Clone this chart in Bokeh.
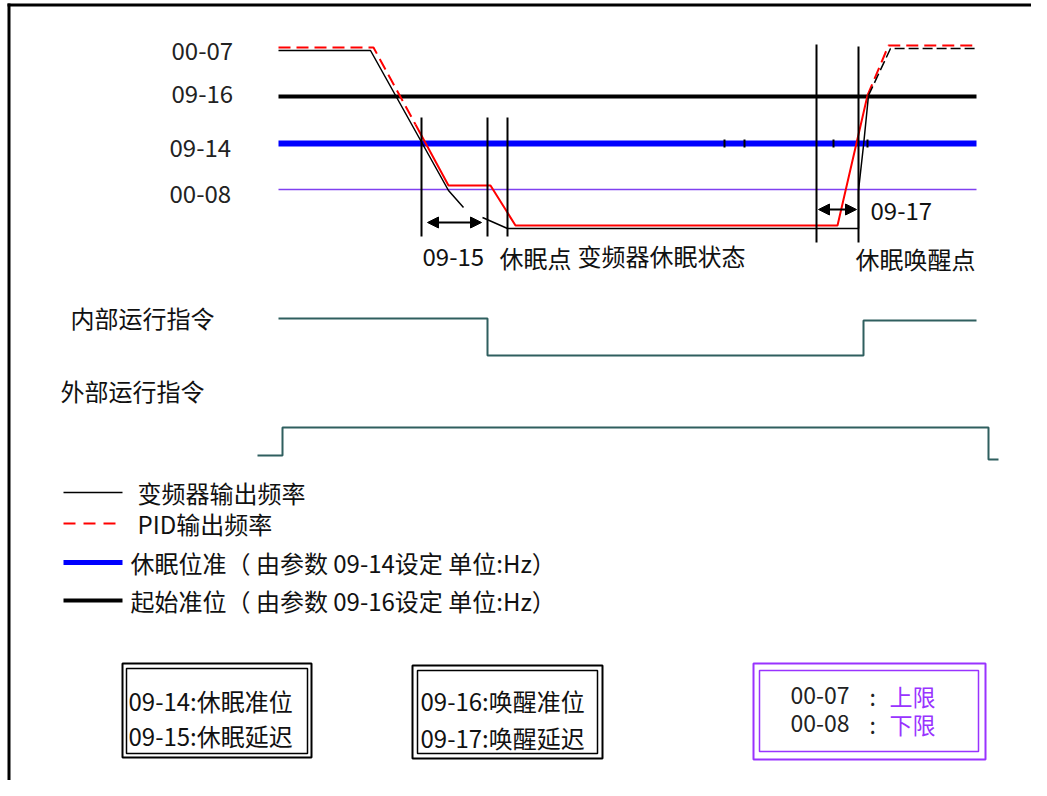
from bokeh.plotting import figure
from bokeh.models import Range1d, Arrow, NormalHead
from bokeh.core.properties import value
from bokeh.embed import file_html
from bokeh.resources import INLINE

CJK = value("Noto Sans CJK SC")

# ---- level lines (diagram coords = picture pixels) ----
level_names = ["00-07", "09-16", "09-14", "00-08"]
level_label_x = [171, 171, 169, 169]
level_label_y = [50, 93, 147, 193]
level_line_y = [96, 143, 189]
level_line_color = ["black", "#0000FF", "#8040F0"]
level_line_width = [4, 6, 1.5]
level_x0, level_x1 = 278, 976

# inverter output frequency (black)
out_a_x = [278, 370, 448, 463]
out_a_y = [50, 50, 190, 207]
out_b_x = [482, 507, 858, 858, 863, 868]
out_b_y = [217, 228, 228, 190, 145, 95]
out_c_x = [868, 890, 976]
out_c_y = [95, 48, 48]

# PID output frequency (red)
pid_a_x = [278, 373, 415]
pid_a_y = [47, 47, 124]
pid_b_x = [415, 448, 490, 515, 837, 867]
pid_b_y = [124, 185, 185, 225, 225, 95]
pid_c_x = [867, 888, 976]
pid_c_y = [95, 45, 45]

# vertical timing markers
mark_x = [421, 487, 507, 816, 858]
mark_y0 = [117, 117, 117, 44, 46]
mark_y1 = [236, 236, 236, 242, 242]

# small ticks on blue line
tick_x = [724, 744, 833, 867]

# delay arrows
arrow_x0 = [427, 818]
arrow_x1 = [481, 856]
arrow_y = [222, 209]

# annotations on top diagram
top_text = ["09-15", "休眠点", "变频器休眠状态", "休眠唤醒点", "09-17"]
top_text_x = [422, 499, 577, 855, 870]
top_text_y = [256, 257, 255, 258, 210]

# run command signals
int_x = [278, 487, 487, 863, 863, 976]
int_y = [318, 318, 355, 355, 320, 320]
ext_x = [257, 282, 282, 988, 988, 998]
ext_y = [455, 455, 427, 427, 459, 459]
sig_labels = ["内部运行指令", "外部运行指令"]
sig_label_x = [70, 60]
sig_label_y = [317, 390]

# legend
legend_text = ["变频器输出频率", "PID输出频率",
               "休眠位准（ 由参数 09-14设定  单位:Hz）",
               "起始准位（ 由参数 09-16设定  单位:Hz）"]
legend_y = [492, 523, 562, 600]
legend_text_x = [137, 137, 130, 130]
legend_color = ["black", "red", "#0000FF", "black"]
legend_width = [1.5, 2, 5, 4]
legend_dash = ["solid", "12 8", "solid", "solid"]
legend_x0, legend_x1 = 63, 122

# parameter boxes
box_outer = [(122, 311, 663, 757), (412, 602, 665, 758), (753, 985, 663, 759)]
box_inner = [(126, 307, 668, 753), (417, 597, 670, 753), (759, 978, 670, 751)]
box_color = ["black", "black", "#9933FF"]
box_text = ["09-14:休眠准位", "09-15:休眠延迟", "09-16:唤醒准位", "09-17:唤醒延迟"]
box_text_x = [128, 128, 420, 420]
box_text_y = [700, 735, 700, 737]
lim_code = ["00-07", "00-08"]
lim_name = ["上限", "下限"]
lim_y = [695, 723]

p = figure(width=1031, height=780, output_backend="svg", toolbar_location=None,
           x_range=Range1d(0, 1031), y_range=Range1d(780, 0), min_border=0)
p.axis.visible = False
p.grid.visible = False
p.outline_line_color = None
p.background_fill_color = "white"

# frame
p.line([8.5, 8.5], [3, 780], line_color="black", line_width=3)
p.line([7, 1031], [4.5, 4.5], line_color="black", line_width=3)

# level lines
for yy, c, w in zip(level_line_y, level_line_color, level_line_width):
    p.line([level_x0, level_x1], [yy, yy], line_color=c, line_width=w)
p.segment(x0=tick_x, y0=[139] * len(tick_x), x1=tick_x, y1=[147] * len(tick_x),
          line_color="black", line_width=2)
p.text(x=level_label_x, y=level_label_y, text=level_names, text_font=CJK,
       text_font_size="24px", text_baseline="middle", text_color="#222222")

# curves
p.line(pid_a_x, pid_a_y, line_color="red", line_width=2, line_dash="12 6")
p.line(pid_b_x, pid_b_y, line_color="red", line_width=2)
p.line(pid_c_x, pid_c_y, line_color="red", line_width=2, line_dash="12 6")
p.line(out_a_x, out_a_y, line_color="black", line_width=1.5)
p.line(out_b_x, out_b_y, line_color="black", line_width=1.5)
p.line(out_c_x, out_c_y, line_color="black", line_width=1.5, line_dash="10 4")

p.segment(x0=mark_x, y0=mark_y0, x1=mark_x, y1=mark_y1, line_color="black", line_width=2)

for xa, xb, yy in zip(arrow_x0, arrow_x1, arrow_y):
    p.add_layout(Arrow(x_start=xa, y_start=yy, x_end=xb, y_end=yy, line_width=2,
                       start=NormalHead(size=11, fill_color="black", line_color="black"),
                       end=NormalHead(size=11, fill_color="black", line_color="black")))

p.text(x=top_text_x, y=top_text_y, text=top_text, text_font=CJK,
       text_font_size="24px", text_baseline="middle", text_color="#111111")

# run commands
p.line(int_x, int_y, line_color="#2F5F5F", line_width=2)
p.line(ext_x, ext_y, line_color="#2F5F5F", line_width=2)
p.text(x=sig_label_x, y=sig_label_y, text=sig_labels, text_font=CJK,
       text_font_size="24px", text_baseline="middle", text_color="#111111")

# legend
for yy, c, w, d in zip(legend_y, legend_color, legend_width, legend_dash):
    p.line([legend_x0, legend_x1], [yy, yy], line_color=c, line_width=w, line_dash=d)
p.text(x=legend_text_x, y=legend_y, text=legend_text, text_font=CJK,
       text_font_size="24px", text_baseline="middle", text_color="#111111")

# boxes
for (l, r, t, b), c in zip(box_outer, box_color):
    p.quad(left=[l], right=[r], top=[t], bottom=[b], fill_color=None,
           line_color=c, line_width=2)
for (l, r, t, b), c in zip(box_inner, box_color):
    p.quad(left=[l], right=[r], top=[t], bottom=[b], fill_color=None,
           line_color=c, line_width=1.5)
p.text(x=box_text_x, y=box_text_y, text=box_text, text_font=CJK,
       text_font_size="24px", text_baseline="middle", text_color="#111111")
p.text(x=[790] * 2, y=lim_y, text=lim_code, text_font=CJK,
       text_font_size="23px", text_baseline="middle", text_color="#222222")
p.text(x=[869] * 2, y=lim_y, text=[":"] * 2, text_font=CJK,
       text_font_size="23px", text_baseline="middle", text_color="#222222")
p.text(x=[889] * 2, y=lim_y, text=lim_name, text_font=CJK,
       text_font_size="23px", text_baseline="middle", text_color="#9933FF")

open("out.html", "w").write(file_html(p, INLINE))
